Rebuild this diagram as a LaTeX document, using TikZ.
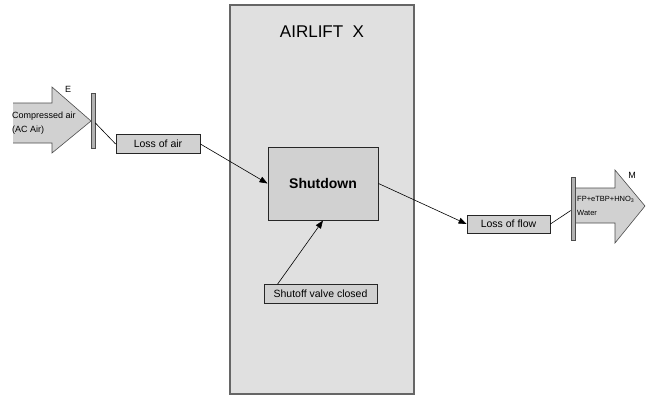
\documentclass[tikz,border=0pt]{standalone}
\usepackage{fontspec}
\setmainfont{Liberation Sans}
\usetikzlibrary{arrows.meta,positioning}

\begin{document}
\begin{tikzpicture}[
  x=1pt,y=-1pt,
  panel/.style={draw=black!60,line width=1.5pt,fill=black!12,minimum width=184pt,minimum height=389pt},
  paneltitle/.style={inner sep=0pt,font=\fontsize{17}{19}\selectfont},
  event/.style={draw=black!85,fill=black!18,line width=0.8pt,minimum height=19pt,inner xsep=3pt,font=\fontsize{10.5}{12}\selectfont},
  state/.style={draw=black!85,fill=black!18,line width=1pt,minimum width=110pt,minimum height=73pt,font=\fontsize{14}{16}\selectfont\bfseries},
  streamfill/.style={fill=black!18},
  streamline/.style={draw=black!70,line width=0.6pt,line join=miter},
  streamtext/.style={inner sep=0pt,align=left,anchor=west},
  port/.style={draw=black!70,fill=black!30,line width=0.6pt,minimum width=4pt,inner sep=0pt},
  tag/.style={inner sep=0pt,font=\fontsize{9}{10}\selectfont},
  link/.style={line width=0.6pt},
  cause/.style={link,-{Triangle[length=8pt,width=6pt]}}
]
\useasboundingbox (0,0) rectangle (647,396);
% airlift panel
\node[panel] (airlift) at (322,199.5) {};
\node[paneltitle,below=21pt of airlift.north] (title) {AIRLIFT\ \ X};
% entering stream
\path[streamfill] (13,103) -- (52,103) -- (52,87) -- (91,121) -- (52,153) -- (52,143) -- (13,143) -- cycle;
\draw[streamline] (13,103) -- (52,103) -- (52,87) -- (91,121) -- (52,153) -- (52,143) -- (13,143);
\node[streamtext,font=\fontsize{9}{14}\selectfont] (airtext) at (12,123.5) {Compressed air\\(AC Air)};
\node[port,minimum height=55pt] (portE) at (93,120.5) {};
\node[tag] (tagE) at (68,89) {E};
% leaving stream
\path[streamfill] (575,188) -- (615,188) -- (615,170) -- (645,206) -- (615,243) -- (615,223) -- (575,223) -- cycle;
\draw[streamline] (575,188) -- (615,188) -- (615,170) -- (645,206) -- (615,243) -- (615,223) -- (575,223);
\node[streamtext,font=\fontsize{7.5}{14}\selectfont] (flowtext) at (577,206) {FP+eTBP+HNO\textsubscript{3}\\Water};
\node[port,minimum height=63pt] (portM) at (573,209) {};
\node[tag] (tagM) at (632,175) {M};
% events and state
\node[event,minimum width=84pt] (lossair) at (158,144) {Loss of air};
\node[state] (shutdown) at (323,183.5) {Shutdown};
\node[event,minimum width=113pt] (shutoff) at (320.5,294) {Shutoff valve closed};
\node[event,minimum width=83pt,minimum height=18pt] (lossflow) at (508.5,224) {Loss of flow};
% connectors
\draw[link] (portE) -- (lossair.west);
\draw[cause] (lossair.east) -- (shutdown.west);
\draw[cause] ([xshift=14pt]shutoff.north west) -- (shutdown.south);
\draw[cause] (shutdown.east) -- (lossflow.west);
\draw[link] (lossflow.east) -- (portM);
\end{tikzpicture}
\end{document}
